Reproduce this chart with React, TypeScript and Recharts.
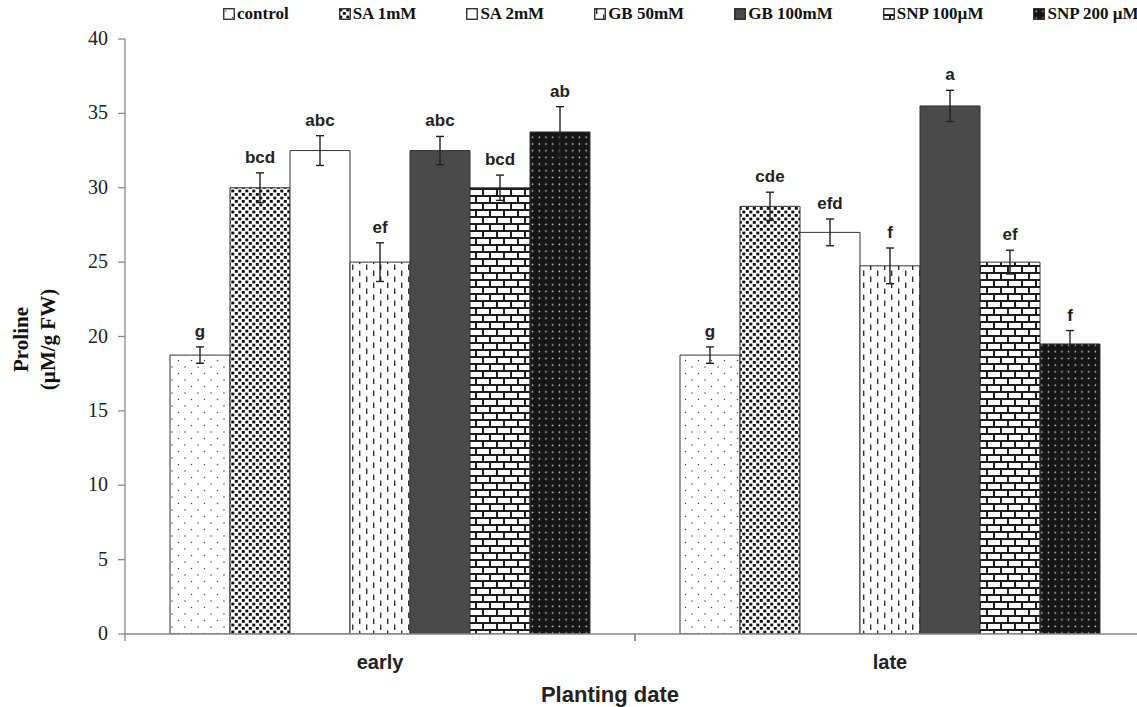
import { BarChart, Bar, XAxis, YAxis, ErrorBar, Legend, LabelList, Label } from 'recharts';

// ── Datos ─────────────────────────────────────────────────────────────────────

const categories = ['early', 'late'];
const yTicks = [0, 5, 10, 15, 20, 25, 30, 35, 40];

const control = [18.75, 18.75];
const sa1 = [30, 28.75];
const sa2 = [32.5, 27];
const gb50 = [25, 24.75];
const gb100 = [32.5, 35.5];
const snp100 = [30, 25];
const snp200 = [33.75, 19.5];

const controlErr = [0.55, 0.55];
const sa1Err = [1.0, 0.95];
const sa2Err = [1.0, 0.9];
const gb50Err = [1.3, 1.2];
const gb100Err = [0.95, 1.05];
const snp100Err = [0.85, 0.8];
const snp200Err = [1.7, 0.9];

const controlLetters = ['g', 'g'];
const sa1Letters = ['bcd', 'cde'];
const sa2Letters = ['abc', 'efd'];
const gb50Letters = ['ef', 'f'];
const gb100Letters = ['abc', 'a'];
const snp100Letters = ['bcd', 'ef'];
const snp200Letters = ['ab', 'f'];

const series = [
  { key: 'control', name: 'control', values: control, err: controlErr, letters: controlLetters, fill: 'url(#pat-control)' },
  { key: 'sa1', name: 'SA 1mM', values: sa1, err: sa1Err, letters: sa1Letters, fill: 'url(#pat-sa1)' },
  { key: 'sa2', name: 'SA 2mM', values: sa2, err: sa2Err, letters: sa2Letters, fill: '#ffffff' },
  { key: 'gb50', name: 'GB 50mM', values: gb50, err: gb50Err, letters: gb50Letters, fill: 'url(#pat-gb50)' },
  { key: 'gb100', name: 'GB 100mM', values: gb100, err: gb100Err, letters: gb100Letters, fill: '#4a4a4a' },
  { key: 'snp100', name: 'SNP 100µM', values: snp100, err: snp100Err, letters: snp100Letters, fill: 'url(#pat-snp100)' },
  { key: 'snp200', name: 'SNP 200 µM', values: snp200, err: snp200Err, letters: snp200Letters, fill: 'url(#pat-snp200)' },
];

const data = categories.map((name, i) => {
  const row: Record<string, any> = { name };
  series.forEach((s) => {
    row[s.key] = s.values[i];
    row[`${s.key}Err`] = s.err[i];
  });
  return row;
});

const SERIF = '"Liberation Serif", "Times New Roman", serif';
const SANS = '"Liberation Sans", Arial, sans-serif';

// ── Tramas de relleno ─────────────────────────────────────────────────────────

const Patterns = () => (
  <defs>
    <pattern id="pat-control" width={13} height={13} patternUnits="userSpaceOnUse">
      <rect width={13} height={13} fill="#fff" />
      <circle cx={3} cy={3} r={0.75} fill="#444" />
      <circle cx={9.5} cy={9.5} r={0.75} fill="#444" />
    </pattern>
    <pattern id="pat-sa1" width={7} height={7} patternUnits="userSpaceOnUse">
      <rect width={7} height={7} fill="#fff" />
      <rect x={0.3} y={0.6} width={3} height={2.8} fill="#111" />
      <rect x={3.8} y={4} width={3} height={2.8} fill="#111" />
    </pattern>
    <pattern id="pat-gb50" width={14} height={12} patternUnits="userSpaceOnUse">
      <rect width={14} height={12} fill="#fff" />
      <rect x={2} y={0.5} width={1.4} height={5.5} fill="#333" />
      <rect x={9} y={6.5} width={1.4} height={5.5} fill="#333" />
    </pattern>
    <pattern id="pat-snp100" width={14} height={14} patternUnits="userSpaceOnUse">
      <rect width={14} height={14} fill="#1c1c1c" />
      <rect x={1} y={1} width={12} height={5} fill="#fff" />
      <rect x={8} y={8} width={12} height={5} fill="#fff" />
      <rect x={-6} y={8} width={12} height={5} fill="#fff" />
    </pattern>
    <pattern id="pat-snp200" width={6.7} height={6.7} patternUnits="userSpaceOnUse">
      <rect width={6.7} height={6.7} fill="#151515" />
      <circle cx={3.3} cy={3.3} r={0.8} fill="#d8d8d8" />
    </pattern>
  </defs>
);

// ── Leyenda ───────────────────────────────────────────────────────────────────

const LegendContent = () => (
  <div style={{ display: 'flex', paddingLeft: 223, gap: 50, alignItems: 'center' }}>
    {series.map((s) => (
      <div key={s.key} style={{ display: 'flex', alignItems: 'center', gap: 2 }}>
        <svg width={12} height={12}>
          <rect x={0.75} y={0.75} width={10.5} height={10.5} fill={s.fill} stroke="#222" strokeWidth={1.3} />
        </svg>
        <span style={{ fontFamily: SERIF, fontWeight: 700, fontSize: 17, color: '#111', whiteSpace: 'nowrap' }}>
          {s.name}
        </span>
      </div>
    ))}
  </div>
);

// ── Letras de significancia sobre la barra de error ──────────────────────────

const makeLetterLabel = (letters: string[], errs: number[]) => (props: any) => {
  const { x, y, width, height, value, index } = props;
  const errPx = (errs[index] * height) / value;
  return (
    <text
      x={x + width / 2}
      y={y - errPx - 10}
      textAnchor="middle"
      fontFamily={SANS}
      fontWeight={700}
      fontSize={17}
      fill="#222"
    >
      {letters[index]}
    </text>
  );
};

// ── Ejes ──────────────────────────────────────────────────────────────────────

// Marcas del eje X en los límites de cada categoría, etiqueta al centro
const CategoryTick = ({ x, y, payload }: any) => {
  const half = payload.offset ?? 0;
  return (
    <g>
      <line x1={x - half} y1={y} x2={x - half} y2={y + 7} stroke="#888" strokeWidth={1.3} />
      <line x1={x + half} y1={y} x2={x + half} y2={y + 7} stroke="#888" strokeWidth={1.3} />
      <text x={x} y={y + 35} textAnchor="middle" fontFamily={SANS} fontWeight={700} fontSize={20} fill="#222">
        {payload.value}
      </text>
    </g>
  );
};

const ValueTick = ({ x, y, payload }: any) => (
  <text x={x} y={y} dy={6} textAnchor="end" fontFamily={SERIF} fontSize={20} fill="#222">
    {payload.value}
  </text>
);

const YAxisTitle = ({ viewBox }: any) => {
  const cy = viewBox.y + viewBox.height / 2 + 3;
  return (
    <g fontFamily={SERIF} fontWeight={700} fontSize={21} fill="#111">
      <text transform={`translate(28, ${cy}) rotate(-90)`} textAnchor="middle">
        Proline
      </text>
      <text transform={`translate(55, ${cy}) rotate(-90)`} textAnchor="middle">
        (µM/g FW)
      </text>
    </g>
  );
};

const XAxisTitle = ({ viewBox }: any) => (
  <text
    x={viewBox.x + viewBox.width / 2 - 25}
    y={702}
    textAnchor="middle"
    fontFamily={SANS}
    fontWeight={700}
    fontSize={22}
    fill="#222"
  >
    Planting date
  </text>
);

// ── Componente principal ──────────────────────────────────────────────────────

export default function App() {
  return (
    <div style={{ position: 'absolute', left: 0, top: 0, width: 1137, height: 707, overflow: 'hidden', background: '#fff' }}>
      <BarChart
        width={1150}
        height={707}
        data={data}
        margin={{ top: 39, right: 5, left: 0, bottom: 0 }}
        barGap={0}
        barSize={60}
      >
        <Patterns />
        <XAxis
          dataKey="name"
          height={73}
          axisLine={{ stroke: '#888', strokeWidth: 1.3 }}
          tickLine={false}
          tickSize={0}
          tickMargin={0}
          tick={<CategoryTick />}
          interval={0}
        >
          <Label content={<XAxisTitle />} />
        </XAxis>
        <YAxis
          width={125}
          domain={[0, 40]}
          allowDataOverflow
          padding={{ top: 0, bottom: 0 }}
          ticks={yTicks}
          interval={0}
          axisLine={{ stroke: '#888', strokeWidth: 1.3 }}
          tickLine={{ stroke: '#888', strokeWidth: 1.3 }}
          tickSize={7}
          tickMargin={10}
          tick={<ValueTick />}
        >
          <Label content={<YAxisTitle />} />
        </YAxis>
        <Legend
          verticalAlign="middle"
          align="center"
          layout="horizontal"
          wrapperStyle={{ top: 4, left: 0, width: 1137 }}
          content={<LegendContent />}
        />
        {series.map((s) => (
          <Bar
            key={s.key}
            dataKey={s.key}
            name={s.name}
            fill={s.fill}
            stroke="#333"
            strokeWidth={1}
            isAnimationActive={false}
          >
            <ErrorBar dataKey={`${s.key}Err`} direction="y" width={4} stroke="#222" strokeWidth={1.4} />
            <LabelList dataKey={s.key} content={makeLetterLabel(s.letters, s.err)} />
          </Bar>
        ))}
      </BarChart>
    </div>
  );
}
